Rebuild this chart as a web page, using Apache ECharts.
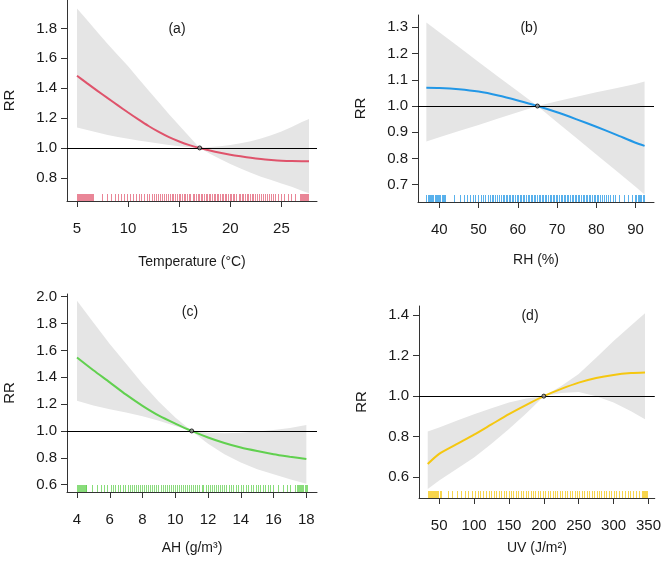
<!DOCTYPE html>
<html><head><meta charset="utf-8">
<script src="https://cdn.jsdelivr.net/npm/echarts@6/dist/echarts.min.js"></script>
<style>html,body{margin:0;padding:0;background:#fff}#chart{width:664px;height:562px}</style>
</head><body><div id="chart"></div>
<script>
// ---------- (a) Temperature ----------
const tempX     = [5, 6, 7, 8, 9, 10, 11, 12, 13, 14, 15, 16, 17, 18, 19, 20, 21, 22, 23, 24, 25, 26, 27, 27.7];
const tempFit   = [1.483, 1.432, 1.382, 1.333, 1.285, 1.237, 1.191, 1.147, 1.107, 1.072, 1.043, 1.019, 1.0, 0.983, 0.968, 0.955, 0.944, 0.934, 0.926, 0.920, 0.915, 0.912, 0.911, 0.911];
const tempUpper = [1.933, 1.855, 1.775, 1.695, 1.62, 1.546, 1.465, 1.385, 1.305, 1.225, 1.15, 1.075, 1.0, 1.006, 1.012, 1.02, 1.031, 1.045, 1.064, 1.085, 1.11, 1.14, 1.174, 1.193];
const tempLower = [1.137, 1.12, 1.103, 1.087, 1.073, 1.061, 1.05, 1.039, 1.029, 1.02, 1.012, 1.005, 1.0, 0.962, 0.926, 0.893, 0.862, 0.834, 0.808, 0.785, 0.762, 0.74, 0.714, 0.697];
const tempRug   = [5.0, 5.1, 5.2, 5.3, 5.4, 5.5, 5.6, 5.7, 5.8, 5.9, 6.0, 6.1, 6.2, 6.3, 6.4, 6.5, 6.6,
  7.4, 7.9, 8.3, 8.7, 9.0, 9.3, 9.6, 9.9, 10.2, 10.5, 10.8, 11.1, 11.3, 11.6, 11.8, 12.0, 12.3, 12.5, 12.7, 12.9,
  13.1, 13.3, 13.5, 13.7, 13.9, 14.1, 14.3, 14.4, 14.6, 14.8, 15.0, 15.1, 15.3, 15.5, 15.6, 15.8, 16.0, 16.1,
  16.3, 16.4, 16.6, 16.8, 16.9, 17.1, 17.2, 17.4, 17.6, 17.7, 17.9, 18.0, 18.2, 18.4, 18.5, 18.7, 18.8, 19.0,
  19.2, 19.3, 19.5, 19.6, 19.8, 20.0, 20.1, 20.3, 20.4, 20.6, 20.8, 20.9, 21.1, 21.2, 21.4, 21.6, 21.7, 21.9,
  22.1, 22.2, 22.4, 22.6, 22.8, 23.0, 23.2, 23.4, 23.6, 23.8, 24.0, 24.2, 24.4, 24.7, 25.0, 25.3, 25.6, 25.9, 26.3,
  26.8, 26.9, 27.0, 27.1, 27.2, 27.3, 27.4, 27.5, 27.6];
const tempXTicks = [5, 10, 15, 20, 25];
const tempYTicks = [0.8, 1.0, 1.2, 1.4, 1.6, 1.8];

// ---------- (b) RH ----------
const rhX     = [36.7, 40, 45, 50, 55, 60, 65, 70, 75, 80, 85, 90, 92.3];
const rhFit   = [1.07, 1.069, 1.064, 1.055, 1.04, 1.021, 1.0, 0.976, 0.949, 0.921, 0.891, 0.86, 0.848];
const rhUpper = [1.318, 1.281, 1.225, 1.168, 1.112, 1.056, 1.0, 1.018, 1.035, 1.052, 1.068, 1.084, 1.093];
const rhLower = [0.865, 0.881, 0.905, 0.928, 0.952, 0.976, 1.0, 0.938, 0.877, 0.815, 0.754, 0.692, 0.663];
const rhRug   = [36.7, 37.0, 37.3, 37.6, 37.9, 38.2, 38.5, 38.8, 39.1, 39.4, 39.7, 40.0, 40.3, 40.6, 40.9, 41.2, 41.5,
  43.7, 45.2, 46.2, 47.0, 47.8, 48.5, 49.2, 49.9, 50.5, 51.1, 51.7, 52.3, 52.8, 53.3, 53.8, 54.3, 54.8, 55.3,
  55.7, 56.1, 56.5, 56.9, 57.3, 57.7, 58.1, 58.5, 58.9, 59.3, 59.7, 60.1, 60.5, 60.9, 61.3, 61.7, 62.1, 62.5,
  62.9, 63.3, 63.7, 64.1, 64.5, 64.9, 65.3, 65.7, 66.1, 66.5, 66.9, 67.3, 67.7, 68.1, 68.5, 68.9, 69.3, 69.7,
  70.1, 70.5, 70.9, 71.3, 71.7, 72.1, 72.5, 72.9, 73.3, 73.7, 74.1, 74.5, 74.9, 75.3, 75.7, 76.1, 76.5, 76.9,
  77.3, 77.7, 78.1, 78.5, 78.9, 79.3, 79.7, 80.1, 80.5, 81.0, 81.5, 82.0, 82.5, 83.0, 83.6, 84.2, 84.8,
  85.7, 87.0, 88.0, 89.1, 89.9, 90.2, 90.5, 90.8, 91.1, 91.4, 91.8, 92.2];
const rhXTicks = [40, 50, 60, 70, 80, 90];
const rhYTicks = [0.7, 0.8, 0.9, 1.0, 1.1, 1.2, 1.3];

// ---------- (c) AH ----------
const ahX     = [4, 5, 6, 7, 8, 9, 10, 11, 12, 13, 14, 15, 16, 17, 18];
const ahFit   = [1.547, 1.452, 1.362, 1.27, 1.187, 1.114, 1.055, 1.0, 0.951, 0.91, 0.876, 0.85, 0.827, 0.808, 0.79];
const ahUpper = [1.97, 1.808, 1.647, 1.5, 1.352, 1.218, 1.1, 1.0, 0.986, 0.983, 0.987, 0.995, 1.007, 1.022, 1.045];
const ahLower = [1.224, 1.19, 1.162, 1.137, 1.11, 1.075, 1.037, 1.0, 0.905, 0.826, 0.764, 0.714, 0.677, 0.64, 0.607];
const ahRug   = [3.98, 4.04, 4.1, 4.16, 4.22, 4.28, 4.34, 4.4, 4.46, 4.52, 4.56,
  4.92, 5.2, 5.45, 5.65, 5.85, 6.05, 6.2, 6.35, 6.5, 6.65, 6.8, 6.95, 7.1, 7.22, 7.35, 7.48, 7.6, 7.72, 7.85,
  7.97, 8.1, 8.22, 8.35, 8.47, 8.6, 8.72, 8.85, 8.97, 9.1, 9.22, 9.35, 9.47, 9.6, 9.72, 9.85, 9.97, 10.1, 10.22,
  10.35, 10.47, 10.6, 10.72, 10.85, 10.97, 11.1, 11.22, 11.35, 11.47, 11.6, 11.72, 11.85, 11.97, 12.1, 12.22,
  12.35, 12.47, 12.6, 12.72, 12.85, 12.97, 13.1, 13.25, 13.4, 13.55, 13.7, 13.85, 14.0, 14.15, 14.3, 14.45,
  14.6, 14.75, 14.9, 15.05, 15.2, 15.35, 15.5, 15.65, 15.8, 15.95, 16.27, 16.55, 16.8, 17.0,
  17.33, 17.4, 17.47, 17.54, 17.61, 17.68, 17.75, 17.82, 17.89, 17.96, 18.03];
const ahXTicks = [4, 6, 8, 10, 12, 14, 16, 18];
const ahYTicks = [0.6, 0.8, 1.0, 1.2, 1.4, 1.6, 1.8, 2.0];

// ---------- (d) UV ----------
const uvX     = [33.6, 50, 75, 100, 125, 150, 175, 200, 225, 250, 275, 300, 325, 345];
const uvFit   = [0.664, 0.714, 0.762, 0.809, 0.86, 0.911, 0.957, 1.0, 1.036, 1.067, 1.09, 1.105, 1.114, 1.117];
const uvUpper = [0.825, 0.845, 0.878, 0.911, 0.94, 0.969, 0.988, 1.0, 1.05, 1.109, 1.19, 1.273, 1.35, 1.41];
const uvLower = [0.54, 0.582, 0.64, 0.697, 0.765, 0.837, 0.915, 1.0, 1.015, 1.021, 1.0, 0.969, 0.925, 0.886];
const uvRug   = [34, 35.5, 37, 38.5, 40, 41.5, 43, 44.5, 46, 47.5, 49, 50.5, 52,
  62, 69, 76, 82, 87, 92, 96.5, 101, 105, 109, 113, 117, 121, 125, 128.5, 132, 135.5, 139, 142.5, 146, 149.5,
  153, 156.5, 160, 163.5, 167, 170.5, 174, 177.5, 181, 184.5, 188, 191.5, 195, 198.5, 202, 205.5, 209, 212.5,
  216, 219.5, 223, 226.5, 230, 233.5, 237, 240.5, 244, 247.5, 251, 254.5, 258, 261.5, 265, 268.5, 272, 275.5,
  279, 282.5, 286, 289.5, 293, 296.5, 300, 304, 308, 312, 316, 320, 324, 328, 332, 336,
  341, 342.5, 344, 345.5, 347, 348];
const uvXTicks = [50, 100, 150, 200, 250, 300, 350];
const uvYTicks = [0.6, 0.8, 1.0, 1.2, 1.4];

const FONT = 'Liberation Sans, Arial, sans-serif';
const TXT = '#1a1a1a';
const AX = '#333';

const panels = [
  { label: '(a)', xName: 'Temperature (°C)', color: '#DF536B', rugColor: 'rgba(223,83,107,0.7)',
    x: tempX, fit: tempFit, upper: tempUpper, lower: tempLower, rug: tempRug, ref: 17,
    xTicks: tempXTicks, yTicks: tempYTicks,
    grid: { left: 67, top: 0, width: 250, height: 201 }, xMin: 4.02, xMax: 28.48, yMin: 0.645, yMax: 1.99,
    xNameGap: 54, yNameGap: 50, labelPos: [177, 29] },
  { label: '(b)', xName: 'RH (%)', color: '#2297E6', rugColor: 'rgba(34,151,230,0.75)',
    x: rhX, fit: rhFit, upper: rhUpper, lower: rhLower, rug: rhRug, ref: 65,
    xTicks: rhXTicks, yTicks: rhYTicks,
    grid: { left: 418, top: 15, width: 236, height: 187 }, xMin: 34.57, xMax: 94.7, yMin: 0.634, yMax: 1.347,
    xNameGap: 51, yNameGap: 50, labelPos: [529, 28] },
  { label: '(c)', xName: 'AH (g/m³)', color: '#61D04F', rugColor: 'rgba(97,208,79,0.75)',
    x: ahX, fit: ahFit, upper: ahUpper, lower: ahLower, rug: ahRug, ref: 11,
    xTicks: ahXTicks, yTicks: ahYTicks,
    grid: { left: 67, top: 294, width: 250, height: 198 }, xMin: 3.39, xMax: 18.65, yMin: 0.545, yMax: 2.02,
    xNameGap: 49, yNameGap: 50, labelPos: [190, 312] },
  { label: '(d)', xName: 'UV (J/m²)', color: '#F5C710', rugColor: 'rgba(245,199,16,0.75)',
    x: uvX, fit: uvFit, upper: uvUpper, lower: uvLower, rug: uvRug, ref: 200,
    xTicks: uvXTicks, yTicks: uvYTicks,
    grid: { left: 419, top: 306, width: 239, height: 192 }, xMin: 21.1, xMax: 359, yMin: 0.496, yMax: 1.446,
    xNameGap: 43, yNameGap: 50, labelPos: [530, 316] }
];

const grid = [], xAxis = [], yAxis = [], series = [], graphic = [];
panels.forEach((p, i) => {
  grid.push(Object.assign({ containLabel: false }, p.grid));
  xAxis.push({
    type: 'value', gridIndex: i, min: p.xMin, max: p.xMax,
    name: p.xName, nameLocation: 'middle', nameGap: p.xNameGap,
    nameTextStyle: { fontFamily: FONT, fontSize: 14, color: TXT },
    axisLine: { show: true, onZero: false, lineStyle: { color: AX, width: 1 } },
    axisTick: { show: true, customValues: p.xTicks, length: 6, lineStyle: { color: AX } },
    axisLabel: { customValues: p.xTicks, margin: 20, fontFamily: FONT, fontSize: 15, color: TXT,
      formatter: v => String(Math.round(v)) },
    splitLine: { show: false }
  });
  yAxis.push({
    type: 'value', gridIndex: i, min: p.yMin, max: p.yMax,
    name: 'RR', nameLocation: 'middle', nameGap: p.yNameGap, nameRotate: 90,
    nameTextStyle: { fontFamily: FONT, fontSize: 15, color: TXT },
    axisLine: { show: true, onZero: false, lineStyle: { color: AX, width: 1 } },
    axisTick: { show: true, customValues: p.yTicks, length: 6, lineStyle: { color: AX } },
    axisLabel: { customValues: p.yTicks, margin: 10, fontFamily: FONT, fontSize: 15, color: TXT,
      formatter: v => Number(v).toFixed(1) },
    splitLine: { show: false }
  });
  // confidence band
  series.push({
    type: 'custom', xAxisIndex: i, yAxisIndex: i, silent: true, z: 1,
    data: [[p.x[0], p.upper[0]]], encode: { x: 0, y: 1 },
    renderItem: (params, api) => {
      const pts = [];
      for (let k = 0; k < p.x.length; k++) pts.push(api.coord([p.x[k], p.upper[k]]));
      for (let k = p.x.length - 1; k >= 0; k--) pts.push(api.coord([p.x[k], p.lower[k]]));
      return { type: 'polygon', shape: { points: pts, smooth: 0 }, style: { fill: '#E5E5E5', stroke: null } };
    }
  });
  // fitted curve with reference line
  series.push({
    type: 'line', xAxisIndex: i, yAxisIndex: i, z: 3,
    data: p.x.map((v, k) => [v, p.fit[k]]),
    smooth: 0.25, showSymbol: false, silent: true,
    lineStyle: { color: p.color, width: 2 },
    markLine: { silent: true, symbol: 'none', label: { show: false }, animation: false,
      lineStyle: { color: '#000', width: 1, type: 'solid' }, data: [{ yAxis: 1 }] }
  });
  // rug
  series.push({
    type: 'custom', xAxisIndex: i, yAxisIndex: i, silent: true, z: 2,
    data: p.rug.map(v => [v, p.yMin]), encode: { x: 0, y: 1 },
    renderItem: (params, api) => {
      const c = api.coord([api.value(0), api.value(1)]);
      const x = Math.round(c[0]) + 0.5;
      return { type: 'line', shape: { x1: x, y1: c[1], x2: x, y2: c[1] - 7 },
        style: { stroke: p.rugColor, lineWidth: 1 } };
    }
  });
  // reference point
  series.push({
    type: 'scatter', xAxisIndex: i, yAxisIndex: i, z: 5, silent: true,
    data: [[p.ref, 1]], symbol: 'circle', symbolSize: 4,
    itemStyle: { color: '#999', borderColor: '#000', borderWidth: 1 }
  });
  graphic.push({ type: 'text', x: p.labelPos[0], y: p.labelPos[1],
    style: { text: p.label, fontFamily: FONT, fontSize: 14, fill: TXT, textAlign: 'center', textVerticalAlign: 'middle' } });
});

const chart = echarts.init(document.getElementById('chart'), null, { renderer: 'canvas' });
chart.setOption({ animation: false, backgroundColor: '#fff', grid, xAxis, yAxis, series, graphic });
</script></body></html>
